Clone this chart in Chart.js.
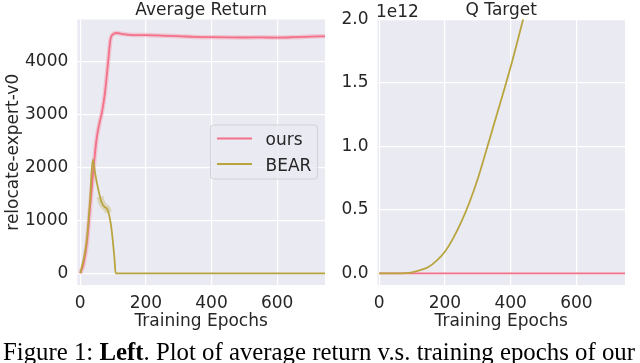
<!DOCTYPE html>
<html>
<head>
<meta charset="utf-8">
<script src="https://cdn.jsdelivr.net/npm/chart.js@4.4.0/dist/chart.umd.min.js"></script>
<style>
    html, body { margin: 0; padding: 0; background: #fff; width: 640px; height: 363px; overflow: hidden; }
    #left { position: absolute; left: 0; top: 0; }
    #right { position: absolute; left: 330px; top: 0; }
    #caption {
        position: absolute; left: 3px; top: 340px;
        font-family: "Liberation Serif", serif; font-size: 24.8px; line-height: 1;
        white-space: nowrap; color: #000;
    }
</style>
</head>
<body>
<canvas id="left" width="330" height="340"></canvas>
<canvas id="right" width="310" height="340"></canvas>
<div id="caption">Figure 1: <b>Left</b>. Plot of average return v.s. training epochs of our</div>
<script>
// Average Return (relocate-expert-v0)
const oursEpochs = [0, 10, 20, 30, 40, 50, 60, 66, 75, 85, 92, 100, 110, 125, 150, 200, 250, 300, 350, 400, 450, 500, 550, 600, 650, 700, 746];
const oursReturn = [0, 180, 560, 1250, 1950, 2550, 2880, 3040, 3400, 4000, 4420, 4520, 4545, 4530, 4510, 4505, 4495, 4485, 4470, 4465, 4462, 4460, 4462, 4458, 4465, 4478, 4482];
const bearEpochs = [0, 10, 20, 30, 38, 45, 51, 60, 66, 75, 81, 86, 91, 95, 99, 104, 108, 200, 300, 400, 500, 600, 700, 746];
const bearReturn = [0, 250, 640, 1400, 2150, 1900, 1700, 1450, 1330, 1250, 1230, 1150, 1010, 850, 630, 300, 0, 0, 0, 0, 0, 0, 0, 0];

// Q Target (x 1e12)
const qOursEpochs = [0, 100, 200, 300, 400, 500, 600, 700, 748];
const qOurs = [0, 0, 0, 0, 0, 0, 0, 0, 0];
const qBearEpochs = [0, 50, 80, 100, 125, 150, 175, 200, 225, 250, 275, 300, 325, 350, 375, 400, 425, 440];
const qBear = [0, 0, 0.002, 0.008, 0.025, 0.05, 0.10, 0.17, 0.275, 0.405, 0.56, 0.745, 0.96, 1.18, 1.40, 1.625, 1.87, 2.02];

const xTicks = [0, 200, 400, 600];
const returnTicks = [0, 1000, 2000, 3000, 4000];
const qTicks = [0, 0.5, 1.0, 1.5, 2.0];

const PINK = '#f37189';
const OLIVE = '#b9a53f';
const FONT = 'DejaVu Sans';
const TXT = '#262626';
const FS = 17;

const pts = (xs, ys) => xs.map((x, i) => ({ x: x, y: ys[i] }));

const bgPlugin = {
    id: 'bg',
    beforeDraw(chart) {
        const a = chart.chartArea;
        const ctx = chart.ctx;
        ctx.save();
        ctx.fillStyle = '#eaeaf2';
        ctx.fillRect(a.left, a.top, a.right - a.left, a.bottom - a.top);
        ctx.restore();
    }
};

const titlePlugin = {
    id: 'panelTitle',
    afterDraw(chart, args, opts) {
        const a = chart.chartArea;
        const ctx = chart.ctx;
        ctx.save();
        ctx.fillStyle = TXT;
        ctx.font = FS + 'px "' + FONT + '"';
        ctx.textAlign = 'center';
        ctx.textBaseline = 'alphabetic';
        ctx.fillText(opts.text, (a.left + a.right) / 2, 15);
        if (opts.offsetText) {
            ctx.textAlign = 'left';
            ctx.fillText(opts.offsetText, a.left - 1.5, 16.5);
        }
        ctx.restore();
    }
};

const legendPlugin = {
    id: 'boxLegend',
    afterDraw(chart, args, opts) {
        if (!opts.items) return;
        const ctx = chart.ctx;
        ctx.save();
        const x = 210.5, y = 125, w = 107, h = 54, r = 3;
        ctx.beginPath();
        ctx.roundRect(x, y, w, h, r);
        ctx.fillStyle = 'rgba(234,234,242,0.8)';
        ctx.fill();
        ctx.strokeStyle = '#d2d2d8';
        ctx.lineWidth = 1;
        ctx.stroke();
        ctx.font = FS + 'px "' + FONT + '"';
        ctx.textBaseline = 'alphabetic';
        ctx.textAlign = 'left';
        opts.items.forEach((it, i) => {
            const ly = 138.5 + i * 25.5;
            ctx.strokeStyle = it.color;
            ctx.lineWidth = 2;
            ctx.beginPath();
            ctx.moveTo(217, ly);
            ctx.lineTo(252, ly);
            ctx.stroke();
            ctx.fillStyle = TXT;
            ctx.fillText(it.label, 265.5, ly + 6.5);
        });
        ctx.restore();
    }
};

function setTicks(values) {
    return scale => { scale.ticks = values.map(v => ({ value: v })); };
}

function makeOptions(cfg) {
    return {
        responsive: false,
        animation: false,
        layout: { padding: { top: 19.5, right: cfg.padRight, left: 0, bottom: 0 } },
        elements: { point: { radius: 0 } },
        plugins: {
            legend: { display: false },
            tooltip: { enabled: false },
            panelTitle: { text: cfg.title, offsetText: cfg.offsetText },
            boxLegend: { items: cfg.legend }
        },
        scales: {
            x: {
                type: 'linear',
                min: cfg.xmin,
                max: cfg.xmax,
                afterBuildTicks: setTicks(xTicks),
                afterFit: s => { s.height = 55; },
                border: { display: false },
                grid: { color: '#ffffff', lineWidth: 1.2, drawTicks: false },
                ticks: {
                    autoSkip: false, maxRotation: 0, padding: 8, color: TXT,
                    font: { family: FONT, size: FS },
                    callback: v => String(v)
                },
                title: {
                    display: true, text: 'Training Epochs', color: TXT,
                    font: { family: FONT, size: FS },
                    padding: { top: 0, bottom: 8.5 }
                }
            },
            y: {
                type: 'linear',
                min: cfg.ymin,
                max: cfg.ymax,
                afterBuildTicks: setTicks(cfg.yTicks),
                afterFit: s => { s.width = cfg.yWidth; },
                border: { display: false },
                grid: { color: '#ffffff', lineWidth: 1.2, drawTicks: false },
                ticks: {
                    autoSkip: false, padding: 9, color: TXT,
                    font: { family: FONT, size: FS },
                    callback: cfg.fmt
                },
                title: {
                    display: !!cfg.yTitle, text: cfg.yTitle || '', color: TXT,
                    font: { family: FONT, size: FS },
                    padding: { top: 3.5, bottom: 0 }
                }
            }
        }
    };
}

function lineSet(label, data, color, order) {
    return {
        label: label, data: data, borderColor: color, borderWidth: 1.8,
        cubicInterpolationMode: 'monotone', order: order, fill: false
    };
}

new Chart(document.getElementById('left').getContext('2d'), {
    type: 'line',
    data: {
        datasets: [
            lineSet('BEAR', pts(bearEpochs, bearReturn), OLIVE, 0),
            lineSet('ours', pts(oursEpochs, oursReturn), PINK, 1),
            {
                label: 'bear band', data: pts(bearEpochs, bearReturn), borderWidth: 7,
                cubicInterpolationMode: 'monotone', order: 2,
                segment: { borderColor: c => (c.p0.parsed.x >= 60 && c.p1.parsed.x <= 86) ? 'rgba(185,165,63,0.3)' : 'rgba(0,0,0,0)' }
            },
            {
                label: 'ours band', data: pts(oursEpochs, oursReturn), borderWidth: 4.5,
                borderColor: 'rgba(243,113,137,0.28)', cubicInterpolationMode: 'monotone', order: 3
            }
        ]
    },
    options: makeOptions({
        title: 'Average Return', padRight: 5, xmin: -9, xmax: 746,
        ymin: -221, ymax: 4800, yTicks: returnTicks, yWidth: 77.3,
        yTitle: 'relocate-expert-v0', fmt: v => String(v),
        legend: [{ label: 'ours', color: PINK }, { label: 'BEAR', color: OLIVE }]
    }),
    plugins: [bgPlugin, titlePlugin, legendPlugin]
});

new Chart(document.getElementById('right').getContext('2d'), {
    type: 'line',
    data: {
        datasets: [
            lineSet('BEAR', pts(qBearEpochs, qBear), OLIVE, 0),
            lineSet('ours', pts(qOursEpochs, qOurs), PINK, 1)
        ]
    },
    options: makeOptions({
        title: 'Q Target', offsetText: '1e12', padRight: 15, xmin: -5, xmax: 748,
        ymin: -0.092, ymax: 2.0, yTicks: qTicks, yWidth: 47.5,
        yTitle: null, fmt: v => v.toFixed(1)
    }),
    plugins: [bgPlugin, titlePlugin, legendPlugin]
});
</script>
</body>
</html>
